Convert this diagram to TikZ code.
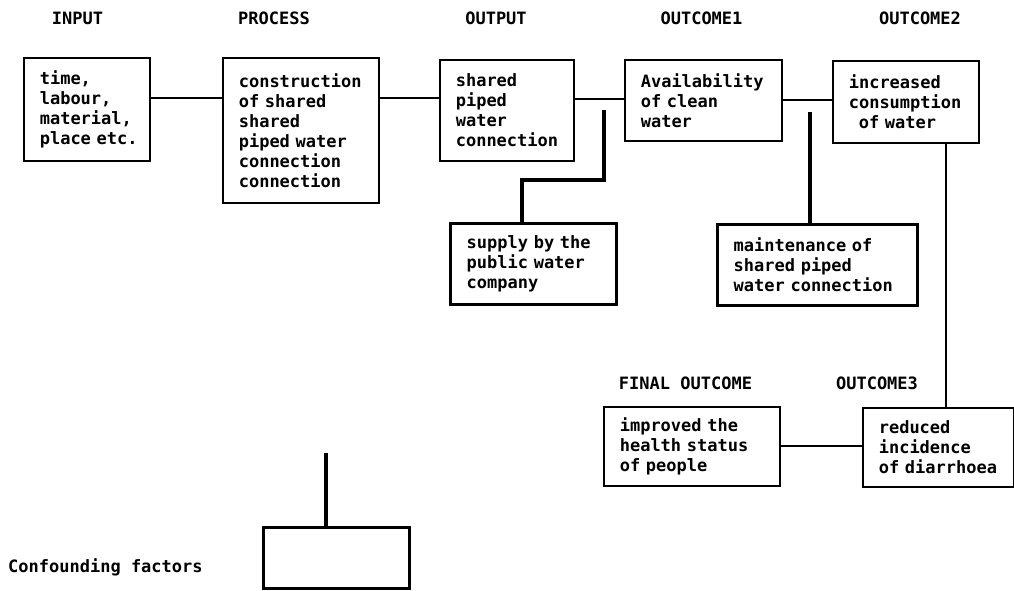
\documentclass[tikz,border=0pt]{standalone}
\usepackage{fontspec}
\newfontfamily\chartfont{DejaVu Sans Mono}[WordSpace={1,0,0}]
\begin{document}
\begin{tikzpicture}[x=1pt,y=-1pt,
  every node/.style={font=\chartfont\bfseries\fontsize{17}{20}\selectfont},
  stage/.style={draw, line width=1.6pt, anchor=north west, inner xsep=16pt,
    inner ysep=0pt, align=left},
  heavystage/.style={stage, line width=3.4pt},
  heading/.style={inner sep=0pt, anchor=center},
  link/.style={line width=1.4pt},
  heavy/.style={line width=3.4pt}]
\useasboundingbox (0,0) rectangle (1014,590);

% column headings
\node[heading] (hin)   at (77.5,18) {INPUT};
\node[heading] (hproc) at (274,18)  {PROCESS};
\node[heading] (hout)  at (496,18)  {OUTPUT};
\node[heading] (hoc1)  at (701.5,18) {OUTCOME1};
\node[heading] (hoc2)  at (920,18)  {OUTCOME2};
\node[heading] (hfin)  at (685.5,383) {FINAL OUTCOME};
\node[heading] (hoc3)  at (877,383) {OUTCOME3};
\node[heading, anchor=west] (hconf) at (8,567) {Confounding factors};

% main chain
\node[stage, text width=94pt,  minimum height=103pt] (input)    at (23,57)
  {time,\\labour,\\material,\\place~etc.};
\node[stage, text width=124pt, minimum height=145pt] (process)  at (222,57)
  {construction\\of~shared\\shared\\piped~water\\connection\\connection};
\node[stage, text width=102pt, minimum height=101pt] (output)   at (439,59)
  {shared\\piped\\water\\connection};
\node[stage, text width=125pt, minimum height=81pt]  (outcome1) at (624,59)
  {Availability\\of~clean\\water};
\node[stage, text width=114pt, minimum height=82pt]  (outcome2) at (832,60)
  {increased\\consumption\\\hspace*{10pt}of~water};
\node[stage, text width=119pt, minimum height=79pt]  (outcome3) at (862,407)
  {reduced\\incidence\\of~diarrhoea};
\node[stage, text width=144pt, minimum height=79pt]  (final)    at (603,406)
  {improved~the\\health~status\\of~people};

% side conditions
\node[heavystage, text width=134pt, minimum height=81pt] (supply) at (449,222)
  {supply~by~the\\public~water\\company};
\node[heavystage, text width=168pt, minimum height=81pt] (maint)  at (716,223)
  {maintenance~of\\shared~piped\\water~connection};
\node[heavystage, text width=114pt, minimum height=61pt] (conf)   at (262,526) {};

% connector guides
\coordinate (row1a) at (0,98);
\coordinate (row1b) at (0,99);
\coordinate (row1c) at (0,100);
\coordinate (row3)  at (0,446);
\coordinate (drop)  at (946,0);
\coordinate (feed)    at (604,110);
\coordinate (feedjog) at (522,180);
\coordinate (upkeep)  at (810,112);
\coordinate (confin)  at (326,453);

% connectors
\draw[link] (input.east |- row1a) -- (process.west |- row1a);
\draw[link] (process.east |- row1a) -- (output.west |- row1a);
\draw[link] (output.east |- row1b) -- (outcome1.west |- row1b);
\draw[link] (outcome1.east |- row1c) -- (outcome2.west |- row1c);
\draw[link] (outcome2.south -| drop) -- (outcome3.north -| drop);
\draw[link] (final.east |- row3) -- (outcome3.west |- row3);

\draw[heavy] (feed) |- (feedjog) -- (supply.north -| feedjog);
\draw[heavy] (upkeep) -- (maint.north -| upkeep);
\draw[heavy] (confin) -- (conf.north -| confin);
\end{tikzpicture}
\end{document}
